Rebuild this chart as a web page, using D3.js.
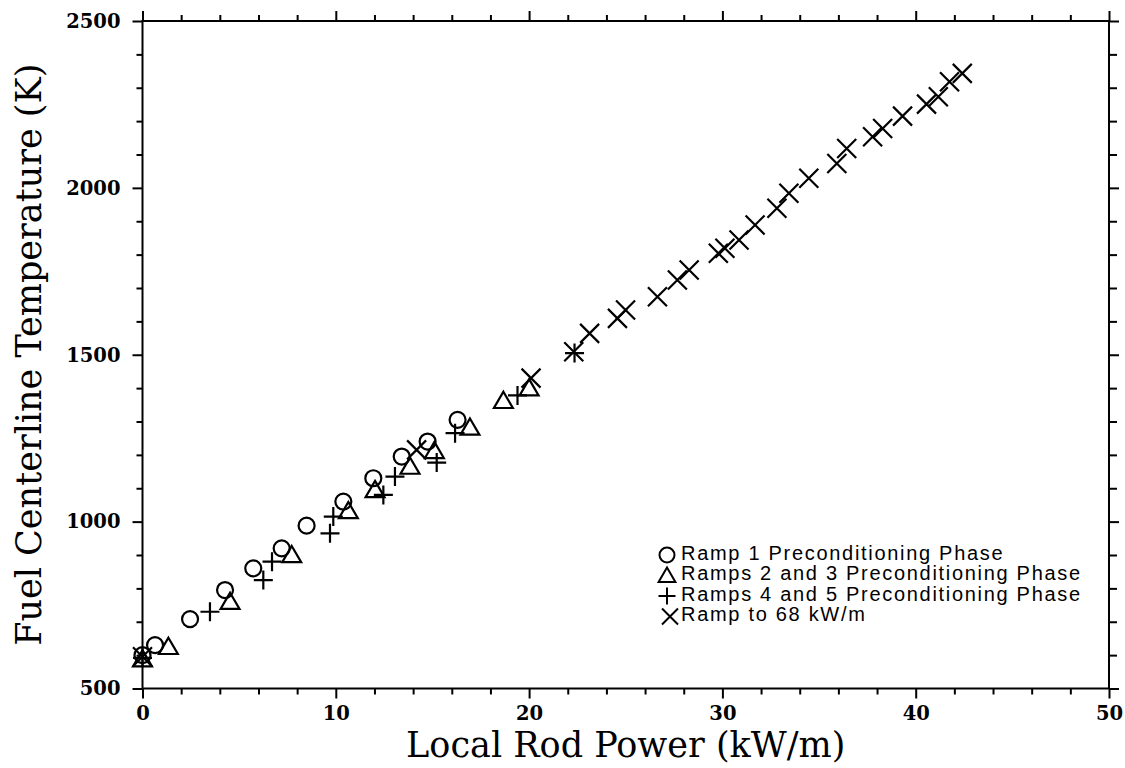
<!DOCTYPE html>
<html><head><meta charset="utf-8">
<script src="https://cdn.jsdelivr.net/npm/d3@7"></script>
<style>body{margin:0;background:#fff}svg{display:block}</style>
</head><body>
<svg id="chart" width="1125" height="768"></svg>
<script>
// ---- data (kW/m, K) ----
const ramp1 = [[0,600],[0.65,630],[2.46,708],[4.27,795],[5.73,860],[7.2,920],[8.49,988],[10.39,1060],[11.94,1130],[13.41,1195],[14.75,1240],[16.3,1305]];
const ramps23 = [[0,588],[1.34,625],[4.53,760],[7.72,900],[10.65,1032],[12.03,1095],[13.84,1165],[15.1,1212],[16.94,1282],[18.67,1362],[20.0,1400]];
const ramps45 = [[0,592],[3.49,730],[6.25,825],[6.7,880],[9.7,965],[9.87,1015],[12.46,1080],[13.06,1135],[15.22,1177],[16.17,1265],[19.4,1378],[22.35,1505]];
const ramp68 = [[0,595],[14.18,1215],[20.1,1430],[22.31,1509],[23.13,1564],[24.57,1609],[24.99,1634],[26.64,1674],[27.67,1724],[28.28,1754],[29.79,1804],[30.13,1819],[30.86,1844],[31.69,1889],[32.82,1939],[33.44,1984],[34.47,2029],[35.92,2073],[36.43,2118],[37.77,2153],[38.29,2178],[39.32,2215],[40.56,2251],[41.17,2273],[41.75,2318],[42.41,2343]];
const xTicks = [0,10,20,30,40,50];
const yTicks = [500,1000,1500,2000,2500];
const legendLabels = ["Ramp 1 Preconditioning Phase","Ramps 2 and 3 Preconditioning Phase","Ramps 4 and 5 Preconditioning Phase","Ramp to 68 kW/m"];
const xTitle = "Local Rod Power (kW/m)";
const yTitle = "Fuel Centerline Temperature (K)";

const svg = d3.select("#chart");
const L = 142.5, R = 1109, T = 21, B = 688.5;
const x = d3.scaleLinear().domain([0,50]).range([L,R]);
const y = d3.scaleLinear().domain([500,2500]).range([B,T]);

const tickFont = "'DejaVu Serif', serif";
function styleAxis(g){
  g.select(".domain").remove();
  g.selectAll(".tick line").attr("stroke","#000").attr("stroke-width",2);
  g.selectAll(".tick text").attr("fill","#000").attr("font-family",tickFont).attr("font-weight","bold").attr("font-size",19.5);
}
const xMinor = d3.range(0,50.01,2).filter(v=>v%10!==0);
const yMinor = d3.range(500,2500.1,100).filter(v=>v%500!==0);

// bottom
svg.append("g").attr("transform",`translate(0,${B})`).call(d3.axisBottom(x).tickValues(xTicks).tickSize(10).tickPadding(8).tickFormat(d3.format("d"))).call(styleAxis);
svg.append("g").attr("transform",`translate(0,${B})`).call(d3.axisBottom(x).tickValues(xMinor).tickSize(6).tickFormat("")).call(styleAxis);
// top
svg.append("g").attr("transform",`translate(0,${T})`).call(d3.axisTop(x).tickValues(xTicks).tickSize(10).tickFormat("")).call(styleAxis);
svg.append("g").attr("transform",`translate(0,${T})`).call(d3.axisTop(x).tickValues(xMinor).tickSize(6).tickFormat("")).call(styleAxis);
// left
svg.append("g").attr("transform",`translate(${L},0)`).call(d3.axisLeft(y).tickValues(yTicks).tickSize(10).tickPadding(12).tickFormat(d3.format("d"))).call(styleAxis);
svg.append("g").attr("transform",`translate(${L},0)`).call(d3.axisLeft(y).tickValues(yMinor).tickSize(6).tickFormat("")).call(styleAxis);
// right
svg.append("g").attr("transform",`translate(${R},0)`).call(d3.axisRight(y).tickValues(yTicks).tickSize(10).tickFormat("")).call(styleAxis);
svg.append("g").attr("transform",`translate(${R},0)`).call(d3.axisRight(y).tickValues(yMinor).tickSize(8).tickFormat("")).call(styleAxis);

// frame
svg.append("rect").attr("x",L).attr("y",T).attr("width",R-L).attr("height",B-T)
  .attr("fill","none").attr("stroke","#000").attr("stroke-width",2);

// marker shapes
const shapes = {
  circle: s => `M${s},0A${s},${s} 0 1,1 ${-s},0A${s},${s} 0 1,1 ${s},0Z`,
  triangle: s => `M0,${-s}L${s*1.05},${s*0.8}L${-s*1.05},${s*0.8}Z`,
  plus: s => `M${-s},0L${s},0M0,${-s}L0,${s}`,
  cross: s => `M${-s},${-s}L${s},${s}M${-s},${s}L${s},${-s}`
};
const series = [
  {data: ramp1, shape: "circle", size: 8},
  {data: ramps23, shape: "triangle", size: 9},
  {data: ramps45, shape: "plus", size: 9.5},
  {data: ramp68, shape: "cross", size: 9.5}
];
const plot = svg.append("g");
series.forEach(s=>{
  plot.selectAll(null).data(s.data).enter().append("path")
    .attr("transform",d=>`translate(${x(d[0])},${y(d[1])})`)
    .attr("d",shapes[s.shape](s.size))
    .attr("fill","none").attr("stroke","#000").attr("stroke-width",2.2);
});

// legend
const leg = svg.append("g").attr("transform","translate(667,559.5)");
legendLabels.forEach((lab,i)=>{
  const g = leg.append("g").attr("transform",`translate(0,${i*20.5})`);
  const sz = [7.5,8,8.5,8][i];
  g.append("path").attr("transform",`translate(${i===3?3:0},${-4.5})`)
    .attr("d",shapes[series[i].shape](sz))
    .attr("fill","none").attr("stroke","#000").attr("stroke-width",2);
  g.append("text").attr("x",14).attr("y",0).text(lab)
    .attr("font-family","'Liberation Sans', Arial, sans-serif").attr("font-size",20)
    .attr("letter-spacing","1.7px").attr("fill","#000");
});

// axis titles
svg.append("text").attr("x",(L+R)/2).attr("y",757).attr("text-anchor","middle")
  .attr("font-family","'DejaVu Serif', serif").attr("font-size",35).attr("fill","#000").text(xTitle);
svg.append("text").attr("transform",`translate(41,${(T+B)/2}) rotate(-90)`).attr("text-anchor","middle")
  .attr("font-family","'DejaVu Serif', serif").attr("font-size",35).attr("fill","#000").text(yTitle);
</script>
</body></html>
